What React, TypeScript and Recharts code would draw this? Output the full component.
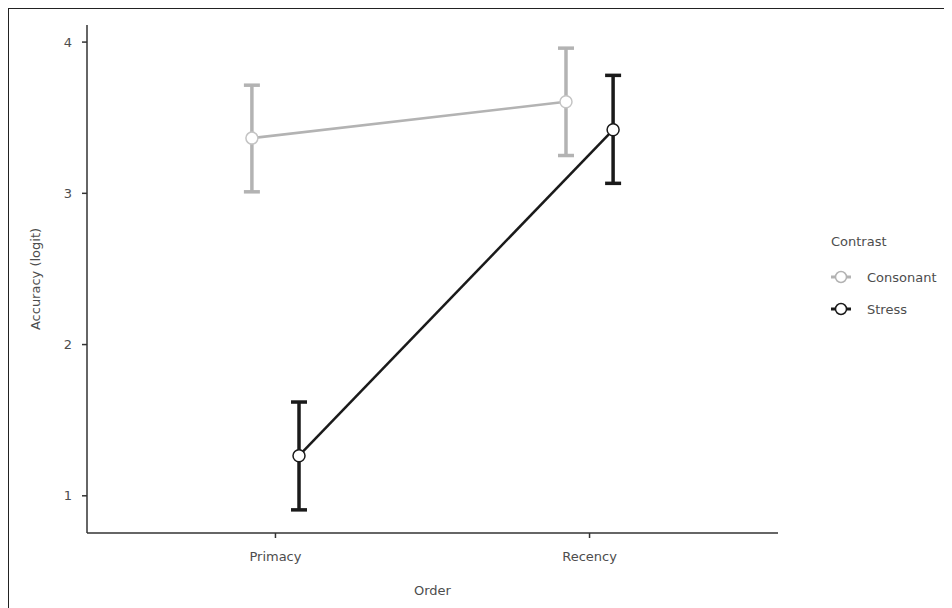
import React from 'react';
import { ComposedChart, ErrorBar, Line, XAxis, YAxis } from 'recharts';

const categories = ['Primacy', 'Recency'];
const seriesNames = ['Consonant', 'Stress'];
const seriesColors = ['#b3b3b3', '#1a1a1a'];

const consonantMean = [3.365, 3.605];
const consonantLow = [3.01, 3.25];
const consonantHigh = [3.715, 3.96];

const stressMean = [1.265, 3.42];
const stressLow = [0.907, 3.066];
const stressHigh = [1.62, 3.78];

const yTicks = [1, 2, 3, 4];
const dodge = 0.075;

const FONT = '"DejaVu Sans", sans-serif';
const TEXT = '#4d4d4d';
const AXIS = '#333333';

const buildRows = (mean: number[], low: number[], high: number[], offset: number) =>
  mean.map((m, i) => ({
    x: i + 1 + offset,
    y: m,
    err: [m - low[i], high[i] - m],
  }));

const consonantRows = buildRows(consonantMean, consonantLow, consonantHigh, -dodge);
const stressRows = buildRows(stressMean, stressLow, stressHigh, dodge);

const LegendBox = () => (
  <div style={{ position: 'absolute', left: 820, top: 225, fontFamily: FONT, fontSize: 13, color: TEXT }}>
    <div style={{ marginLeft: 2, marginBottom: 12 }}>Contrast</div>
    {seriesNames.map((name, i) => (
      <div key={name} style={{ display: 'flex', alignItems: 'center', height: 32 }}>
        <svg width={24} height={20}>
          <line x1={2} y1={10} x2={22} y2={10} stroke={seriesColors[i]} strokeWidth={3} />
          <circle cx={12} cy={10} r={5.5} fill="#fff" stroke={seriesColors[i]} strokeWidth={1.5} />
        </svg>
        <span style={{ marginLeft: 14 }}>{name}</span>
      </div>
    ))}
  </div>
);

export default function App() {
  return (
    <div style={{ position: 'relative', width: 960, height: 620, borderTop: '1px solid #222', borderLeft: '1px solid #222' }}>
      <ComposedChart width={940} height={600} margin={{ top: 16, right: 171, bottom: 0, left: 0 }}>
        <XAxis
          type="number"
          dataKey="x"
          domain={[0.4, 2.6]}
          ticks={[1, 2]}
          tickFormatter={(v: number) => categories[v - 1]}
          allowDataOverflow
          height={76}
          tickSize={5}
          tickMargin={14}
          axisLine={{ stroke: AXIS, strokeWidth: 1.5 }}
          tickLine={{ stroke: AXIS, strokeWidth: 1.5 }}
          tick={{ fill: TEXT, fontSize: 13, fontFamily: FONT }}
          label={{ value: 'Order', position: 'insideBottom', offset: 14, fill: TEXT, fontSize: 13, fontFamily: FONT }}
        />
        <YAxis
          type="number"
          domain={[0.754, 4.113]}
          ticks={yTicks}
          allowDataOverflow
          width={78}
          tickSize={5}
          tickMargin={10}
          axisLine={{ stroke: AXIS, strokeWidth: 1.5 }}
          tickLine={{ stroke: AXIS, strokeWidth: 1.5 }}
          tick={{ fill: TEXT, fontSize: 13, fontFamily: FONT }}
          label={{ value: 'Accuracy (logit)', angle: -90, position: 'insideLeft', offset: 26, fill: TEXT, fontSize: 13, fontFamily: FONT, style: { textAnchor: 'middle' } }}
        />
        <Line
          data={consonantRows}
          dataKey="y"
          name="Consonant"
          stroke={seriesColors[0]}
          strokeWidth={2.5}
          dot={{ r: 6, fill: '#fff', stroke: '#c4c4c4', strokeWidth: 1.5 }}
          isAnimationActive={false}
        >
          <ErrorBar dataKey="err" direction="y" width={8} strokeWidth={3.5} stroke={seriesColors[0]} isAnimationActive={false} />
        </Line>
        <Line
          data={stressRows}
          dataKey="y"
          name="Stress"
          stroke={seriesColors[1]}
          strokeWidth={2.5}
          dot={{ r: 6, fill: '#fff', stroke: seriesColors[1], strokeWidth: 1.5 }}
          isAnimationActive={false}
        >
          <ErrorBar dataKey="err" direction="y" width={8} strokeWidth={3.5} stroke={seriesColors[1]} isAnimationActive={false} />
        </Line>
      </ComposedChart>
      <LegendBox />
    </div>
  );
}
